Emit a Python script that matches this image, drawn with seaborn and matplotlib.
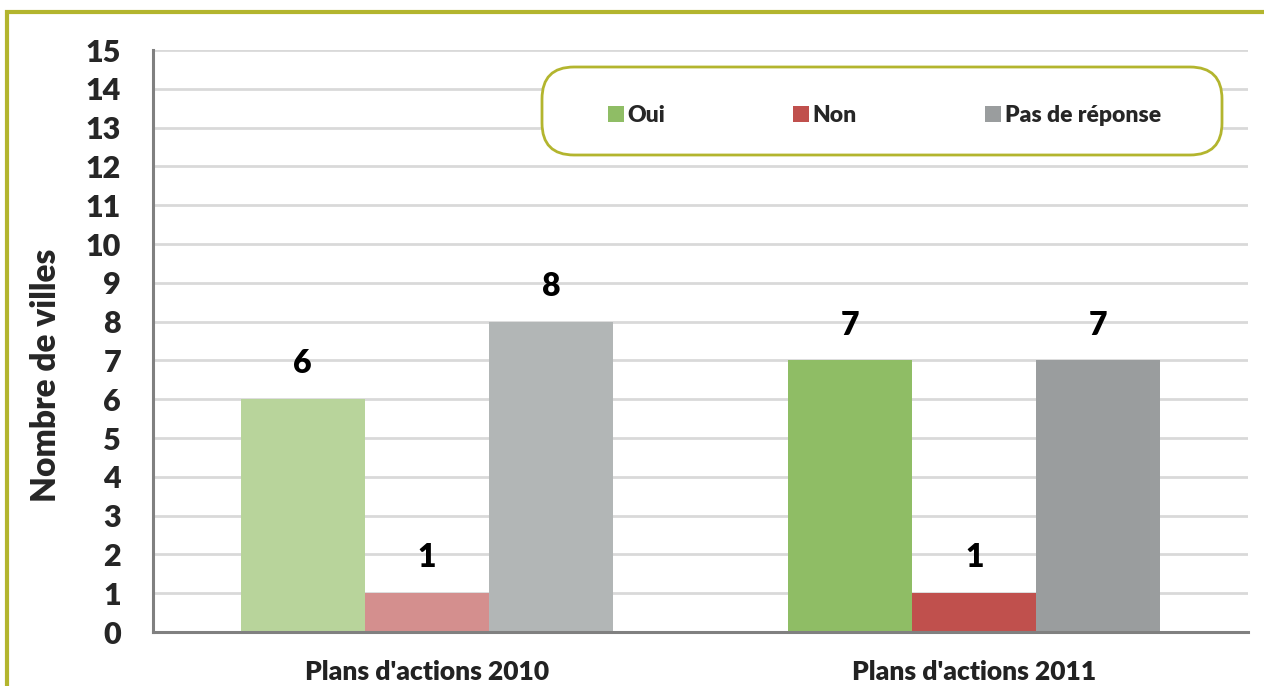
import matplotlib
matplotlib.use("Agg")
import matplotlib.pyplot as plt
import seaborn as sns
import pandas as pd
from matplotlib.patches import Rectangle, FancyBboxPatch, Patch
from matplotlib.transforms import IdentityTransform

categories = ["Plans d'actions 2010", "Plans d'actions 2011"]
responses = ["Oui", "Non", "Pas de réponse"]
values_2010 = [6, 1, 8]
values_2011 = [7, 1, 7]
yticks = list(range(0, 16))

colors_2010 = ["#B8D49B", "#D48F8E", "#B2B6B6"]
colors_2011 = ["#8FBD65", "#C0504D", "#9A9D9E"]
olive = "#B3B52E"

rows = []
for cat, vals in zip(categories, [values_2010, values_2011]):
    for r, v in zip(responses, vals):
        rows.append({"cat": cat, "resp": r, "val": v})
df = pd.DataFrame(rows)

sns.set_style("white")
plt.rcParams['font.family'] = ['Lato', 'DejaVu Sans']
WT = 800
plt.rcParams['font.weight'] = WT

W, H = 1264, 686
fig = plt.figure(figsize=(W / 100, H / 100), dpi=100)
ax = fig.add_axes([153 / W, (H - 632) / H, (1248 - 153) / W, (632 - 50) / H])

sns.barplot(data=df, x="cat", y="val", hue="resp", order=categories,
            hue_order=responses, palette=colors_2011, width=0.68,
            ax=ax, legend=False, saturation=1)

cat_colors = [colors_2010, colors_2011]
for hi, cont in enumerate(ax.containers):
    for ci, bar in enumerate(cont):
        bar.set_facecolor(cat_colors[ci][hi])
        bar.set_edgecolor("none")
        bar.set_zorder(3)
    ax.bar_label(cont, padding=15, fontsize=23, fontweight=WT, color='black')

ax.set_ylim(0, 15)
ax.set_xlim(-0.5, 1.5)
ax.set_yticks(yticks)
ax.set_yticklabels([str(t) for t in yticks], fontsize=22, fontweight=WT)
ax.grid(axis='y', color='#D9D9D9', linewidth=2, zorder=0)
ax.set_axisbelow(True)

ax.set_xticks([-0.5, 0.5, 1.5])
ax.set_xticklabels([])
ax.set_xticks([0, 1], minor=True)
ax.set_xticklabels(categories, minor=True, fontsize=19, fontweight=WT, color='#222222')
ax.tick_params(axis='x', which='minor', length=0, pad=20)
ax.tick_params(axis='x', which='major', length=8, width=1.5, color='#808080', direction='out')
ax.tick_params(axis='y', length=7, width=1.5, color='#808080', direction='out', pad=16)

for s in ['top', 'right']:
    ax.spines[s].set_visible(False)
for s in ['left', 'bottom']:
    ax.spines[s].set_color('#808080')
    ax.spines[s].set_linewidth(2.2)
ax.spines['bottom'].set_zorder(4)

ax.set_xlabel("")
ax.set_ylabel("Nombre de villes", fontsize=24, fontweight=WT)
ax.yaxis.set_label_coords((62 - 153) / 1095, (632 - 375) / 582)

# legend box
bx0 = (542 - 153) / 1095
bx1 = (1222 - 153) / 1095
by0 = (632 - 155) / 582
by1 = (632 - 67) / 582
box = FancyBboxPatch((bx0, by0), bx1 - bx0, by1 - by0,
                     boxstyle="round,pad=0,rounding_size=%f" % (32 / 1095),
                     mutation_aspect=1095 / 582, transform=ax.transAxes,
                     facecolor='white', edgecolor=olive, linewidth=2, zorder=5)
ax.add_patch(box)
handles = [Patch(facecolor=c, edgecolor='none') for c in colors_2011]
leg = ax.legend(handles, responses, loc='center',
                bbox_to_anchor=((bx0 + bx1) / 2 + 0.002, (by0 + by1) / 2 - 0.007),
                ncol=3, frameon=False, handlelength=0.7,
                handleheight=0.7, handletextpad=0.15, columnspacing=5.6,
                prop={'weight': WT, 'size': 16.5})
leg.set_zorder(6)

# figure border
border = Rectangle((7, -20), W + 40, H - 12 + 20, transform=IdentityTransform(),
                   fill=False, edgecolor=olive, linewidth=3)
fig.patches.append(border)

fig.savefig("out.png", dpi=100)
